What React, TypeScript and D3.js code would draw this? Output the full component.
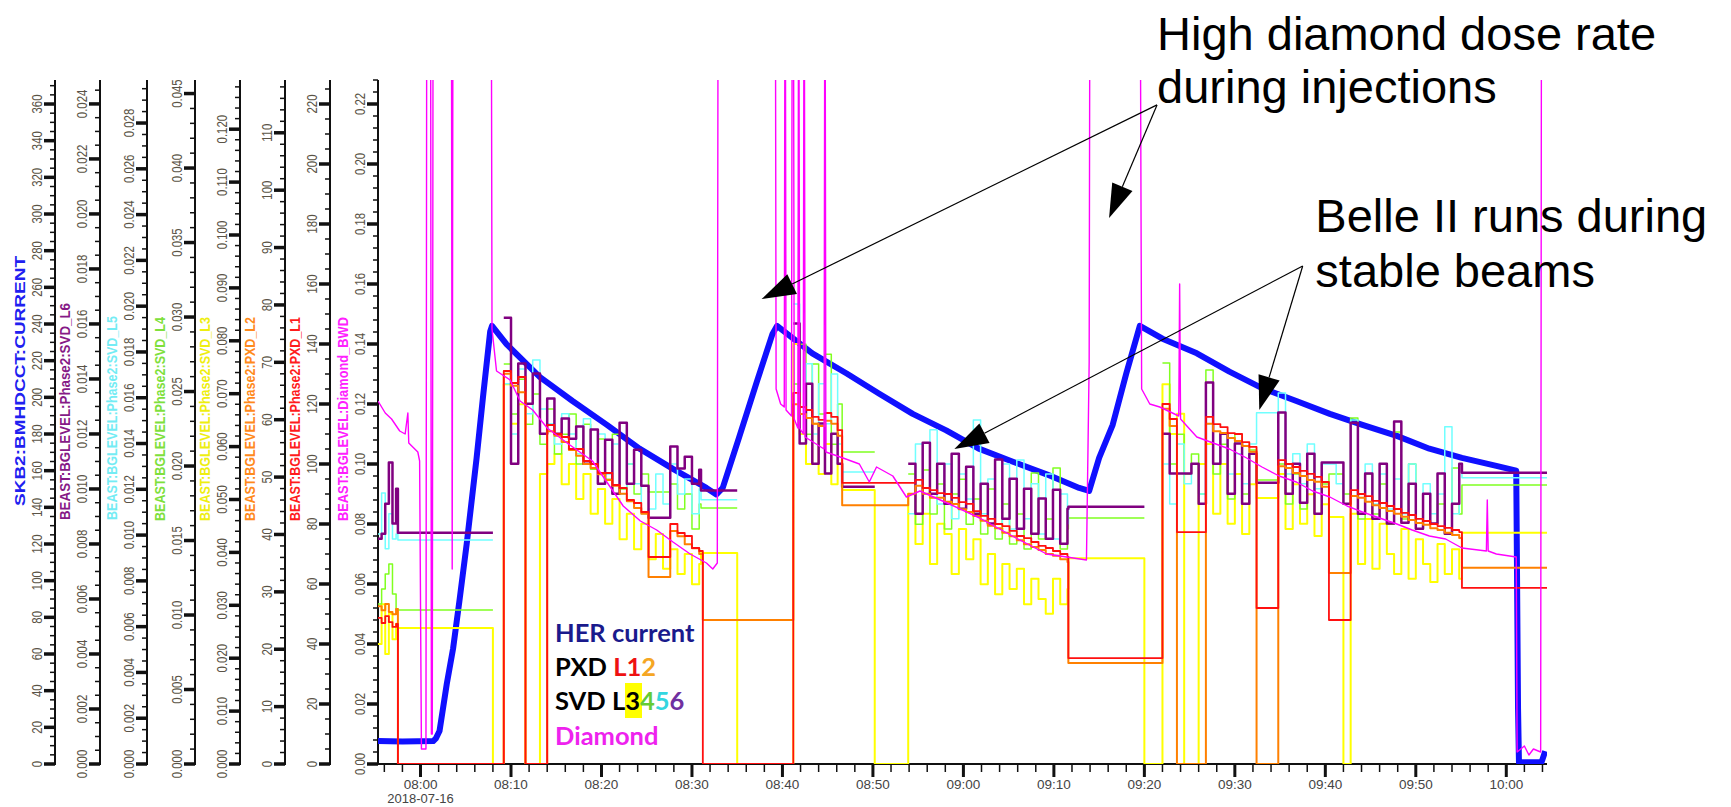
import React from 'react';
import * as d3 from 'd3';

type P = [number, number | null];

const W = 1731, H = 807;
const PL = 378, PR = 1547, PT = 80, PB = 764;
const BASE = new Date(2018, 6, 16, 8, 0, 0).getTime();
const T0 = -4.7, T1 = 124.5; // minutes after 08:00
const toDate = (m: number) => new Date(BASE + m * 60000);

// --- sample times (minutes after 08:00) for each running period ---
const tPre = [-4.7, -4.3, -3.9, -3.5, -3.1, -2.7];
const tA = [9.2, 10.0, 10.8, 11.6, 12.4, 13.2, 14.0, 14.8, 15.6, 16.4, 17.2, 18.0, 18.8, 19.6, 20.4, 21.2, 22.0, 22.8, 23.6, 24.4, 25.2, 26.0, 26.8, 27.6, 28.4, 29.2, 30.0, 30.8];
const tB1 = [41.2, 41.9, 42.6, 43.3, 44.0, 44.7, 45.4, 46.1];
const tB2 = [53.9, 54.7, 55.5, 56.3, 57.1, 57.9, 58.7, 59.5, 60.3, 61.1, 61.9, 62.7, 63.5, 64.3, 65.1, 65.9, 66.7, 67.5, 68.3, 69.1, 69.9, 70.7, 71.5];
const tC = [82.0, 82.8, 83.6, 84.4, 85.2, 86.0, 86.8, 87.6, 88.4, 89.2, 90.0, 90.8, 91.6, 92.4, 93.2, 94.0, 94.8, 95.6, 96.4, 97.2, 98.0, 98.8, 99.6, 100.4, 101.2, 102.0, 102.8, 103.6, 104.4, 105.2, 106.0, 106.8, 107.6, 108.4, 109.2, 110.0, 110.8, 111.6, 112.4, 113.2, 114.0, 114.8];

// --- HER current (mA) ---
const herT = [-4.7, -2.0, 1.4, 1.7, 2.1, 2.9, 3.6, 4.3, 5.1, 6.2, 6.9, 7.7, 7.9, 9.5, 13.2, 16.8, 20.6, 24.2, 27.9, 31.6, 32.7, 33.4, 35.2, 37.2, 38.9, 39.4, 43.3, 47.1, 50.7, 54.4, 58.1, 61.7, 65.4, 69.2, 72.8, 73.9, 75.0, 76.5, 78.0, 79.5, 82.0, 85.8, 89.4, 93.0, 96.8, 100.5, 104.1, 107.9, 111.5, 115.1, 118.9, 121.1, 121.3, 121.4, 123.9, 124.3];
const herV = [12.5, 12.3, 12.5, 14, 18, 43.6, 63, 89, 120, 167, 200, 236, 239, 229, 211, 198, 185, 172, 161, 150.6, 147, 150.6, 178, 209, 234.6, 239, 224, 213, 202, 191, 182, 172, 165, 158, 150.6, 149, 167, 185, 213, 239, 232, 224, 214, 205, 198, 191, 185, 179, 172, 167, 162.6, 160, 30, 1, 1, 7];

// --- Diamond BWD ---
const diaT = [-4.7, -3.9, -3.2, -2.3, -1.7, -1.4, -1.3, -0.3, -0.1, 0.1, 0.6, 0.7, 1.1, 1.2, 1.3, 1.4, 3.4, 3.5, 3.6, 7.8, 7.9, 8.4, 9.9, 11.0, 12.4, 14.0, 16.2, 19.0, 22.4, 24.3, 26.1, 27.9, 29.8, 31.6, 32.3, 32.8, 32.9, 39.2, 39.3, 39.8, 40.2, 40.3, 40.4, 41.0, 41.1, 41.2, 41.3, 41.7, 41.8, 41.9, 42.3, 42.4, 42.5, 44.6, 44.7, 44.8, 46.7, 48.5, 49.6, 50.4, 52.2, 53.7, 55.2, 58.2, 61.8, 65.4, 69.2, 71.4, 73.6, 73.9, 74.0, 79.5, 79.7, 80.6, 81.7, 83.8, 83.9, 84.0, 85.8, 87.6, 89.4, 91.3, 93.0, 94.9, 96.8, 98.6, 100.5, 102.4, 104.1, 106.0, 107.9, 109.6, 111.5, 113.3, 115.1, 117.8, 117.9, 118.0, 118.9, 121.1, 121.2, 122.0, 122.5, 123.0, 123.8, 123.9, 124.5];
const diaV = [0.121, 0.117, 0.115, 0.111, 0.110, 0.117, 0.107, 0.104, 0.101, 0.005, 0.005, 0.30, 0.30, 0.010, 0.010, 0.30, 0.30, 0.065, 0.30, 0.30, 0.145, 0.131, 0.128, 0.121, 0.118, 0.112, 0.107, 0.101, 0.086, 0.081, 0.078, 0.074, 0.070, 0.067, 0.065, 0.067, 0.30, 0.30, 0.125, 0.120, 0.119, 0.30, 0.118, 0.116, 0.30, 0.30, 0.115, 0.112, 0.30, 0.112, 0.110, 0.30, 0.109, 0.105, 0.30, 0.104, 0.102, 0.100, 0.094, 0.099, 0.096, 0.089, 0.091, 0.087, 0.082, 0.076, 0.070, 0.069, 0.068, 0.134, 0.30, 0.30, 0.125, 0.120, 0.119, 0.116, 0.16, 0.115, 0.109, 0.107, 0.105, 0.102, 0.099, 0.096, 0.094, 0.091, 0.089, 0.086, 0.084, 0.082, 0.080, 0.078, 0.076, 0.075, 0.072, 0.071, 0.088, 0.071, 0.070, 0.069, 0.004, 0.006, 0.003, 0.005, 0.004, 0.30, 0.30];

// --- PXD L1 ---
const l1Pre = [48.7, 47, 49.3, 47.3, 45.7, 46.7];
const l1A = [131, 127, 129, 0, 0, 0, 113, 110, 109, 105, 105, 101, 100, 97, 97, 93, 92, 88, 87, 84, 69, 69, 69, 80, 77, 76, 72, 71];
const l1B1 = [123.7, 119, 118, 115.7, 114.7, 117, 115.7, 111.3];
const l1B2 = [93.7, 94.7, 92, 91.3, 90.3, 90, 88.7, 87.3, 86.7, 84.3, 82.7, 81.7, 80, 79.3, 77.7, 76, 75.3, 74, 72.7, 72, 71, 70, 69];
const l1C = [120, 115, 77.3, 77.3, 77.3, 77.3, 115.7, 113.3, 112.3, 110.3, 110, 107.3, 105.7, 52, 52, 52, 101.3, 100, 99, 97.7, 96.7, 95.7, 94, 48, 48, 48, 91.3, 90, 89.3, 87.7, 87, 86, 85, 83.7, 83, 81.7, 81, 80, 79.3, 78.7, 78, 77.3];
const l1Links: P[][] = [[[-2.5, 0]], [[31.2, 0]], [[46.6, 93.7]], [[71.6, 35.3]], [[115.1, 58.7], [124.5, 58.7]]];

// --- PXD L2 ---
const l2Pre = [27.5, 26.8, 27.9, 26.5, 26.1, 27.0];
const l2A = [68.0, 65.9, 64.8, 0, 0, 0, 58.0, 57.2, 56.1, 54.7, 53.7, 52.3, 51.6, 50.5, 49.5, 48.5, 47.1, 45.8, 44.6, 43.6, 32.6, 32.6, 32.6, 40.6, 39.7, 38.3, 37.6, 36.6];
const l2B1 = [62.7, 61.0, 60.3, 59.3, 58.9, 59.8, 59.3, 57.2];
const l2B2 = [47.1, 48.5, 47.1, 46.4, 46.4, 45.7, 45.3, 44.4, 43.9, 43.2, 42.4, 41.5, 41.1, 40.3, 39.7, 39.0, 38.3, 37.8, 37.3, 36.6, 36.3, 35.7, 35.2];
const l2C = [61.9, 58.9, 0, 0, 0, 0, 59.3, 58.0, 57.7, 56.8, 56.3, 55.4, 54.4, 0, 0, 0, 51.9, 51.6, 50.7, 50.2, 49.5, 49.2, 48.3, 33.3, 33.3, 33.3, 46.7, 46.4, 45.7, 45.1, 44.6, 44.1, 43.6, 43.1, 42.5, 42.0, 41.7, 41.1, 40.8, 40.3, 39.9, 39.4];
const l2Links: P[][] = [[[-2.5, 0]], [[31.2, 25.1]], [[46.6, 45.1]], [[71.6, 17.6]], [[115.1, 34.2], [124.5, 34.2]]];

// --- SVD L3 ---
const l3Pre = [0.0227, 0.0302, 0.0208, 0.0284, 0.0236, 0.0265];
const l3A = [0.0718, 0.0643, 0.0680, 0, 0, 0.0548, 0.0567, 0.0586, 0.0529, 0.0567, 0.0501, 0.0548, 0.0473, 0.0520, 0.0454, 0.0501, 0.0425, 0.0473, 0.0406, 0.0454, 0.0387, 0.0435, 0.0369, 0.0406, 0.0359, 0.0397, 0.0340, 0.0378];
const l3B1 = [0.0794, 0.0624, 0.0567, 0.0643, 0.0548, 0.0605, 0.0529, 0.0567];
const l3B2 = [0.0510, 0.0416, 0.0473, 0.0378, 0.0454, 0.0435, 0.0359, 0.0444, 0.0387, 0.0425, 0.0340, 0.0397, 0.0321, 0.0378, 0.0331, 0.0369, 0.0302, 0.0350, 0.0312, 0.0284, 0.0350, 0.0302, 0.0331];
const l3C = [0.0718, 0.0624, 0.0662, 0, 0, 0.0567, 0.0605, 0.0473, 0.0567, 0.0454, 0.0548, 0.0435, 0.0529, 0.0503, 0.0503, 0.0503, 0.0548, 0.0444, 0.0529, 0.0454, 0.0510, 0.0431, 0.0491, 0.0467, 0.0467, 0, 0.0473, 0.0378, 0.0463, 0.0369, 0.0454, 0.0397, 0.0359, 0.0444, 0.0350, 0.0425, 0.0378, 0.0344, 0.0416, 0.0359, 0.0406, 0.0350];
const l3Links: P[][] = [[[-2.5, 0.0257], [8.0, 0]], [[31.0, 0.0399], [35.0, 0]], [[46.6, 0.0518], [50.2, 0]], [[71.6, 0.0389], [80.0, 0]], [[115.1, 0.0437], [124.5, 0.0437]]];

// --- SVD L4 ---
const l4Pre = [0.01074, 0.01174, 0.01275, 0.01342, 0.01141, 0.01040];
const l4A = [0.02684, 0.02349, 0.02583, 0.02281, 0.02483, 0.02147, 0.02382, 0.02080, 0.02214, 0.02349, 0.02013, 0.02281, 0.01979, 0.02181, 0.01912, 0.02214, 0.01845, 0.02013, 0.01812, 0.01946, 0.01825, 0.01825, 0.01825, 0.01879, 0.01711, 0.01812, 0.01577, 0.01745];
const l4B1 = [0.02550, 0.02818, 0.02214, 0.02684, 0.02349, 0.02751, 0.02147, 0.02416];
const l4B2 = [0.01946, 0.01610, 0.01973, 0.01678, 0.01879, 0.01577, 0.01812, 0.01912, 0.01610, 0.01778, 0.01543, 0.01845, 0.01510, 0.01745, 0.01476, 0.01678, 0.01443, 0.01953, 0.01510, 0.01644, 0.01986, 0.01443, 0.01577];
const l4C = [0.02691, 0.02013, 0.02214, 0.01946, 0.02080, 0.01812, 0.02644, 0.01946, 0.02147, 0.01778, 0.02214, 0.01812, 0.02107, 0.01906, 0.01906, 0.01906, 0.02013, 0.01745, 0.01946, 0.01711, 0.02080, 0.01678, 0.01879, 0.01946, 0.01946, 0.01812, 0.02322, 0.01644, 0.01946, 0.01678, 0.01879, 0.01610, 0.02228, 0.01644, 0.02013, 0.01577, 0.01812, 0.01610, 0.01745, 0.01543, 0.01986, 0.01678];
const l4Links: P[][] = [[[-2.5, 0.01033], [8.0, 0.01033], [8.05, null]], [[31.0, 0.01718], [35.0, 0.01718], [35.05, null]], [[46.6, 0.02094], [50.2, 0.02094], [50.25, null]], [[71.6, 0.01651], [80.0, 0.01651], [80.05, null]], [[115.1, 0.01872], [124.5, 0.01872]]];

// --- SVD L5 ---
const l5Pre = [0.01005, 0.01184, 0.00940, 0.01093, 0.00983, 0.01005];
const l5A = [0.01661, 0.01442, 0.01726, 0.01530, 0.01765, 0.01551, 0.01486, 0.01398, 0.01530, 0.01442, 0.01355, 0.01508, 0.01311, 0.01442, 0.01267, 0.01398, 0.01180, 0.01311, 0.01224, 0.01093, 0.01114, 0.01267, 0.01136, 0.01311, 0.01180, 0.01245, 0.01093, 0.01202];
const l5B1 = [0.02010, 0.01529, 0.01748, 0.01442, 0.01661, 0.01486, 0.01704, 0.01398];
const l5B2 = [0.01093, 0.01398, 0.01180, 0.01460, 0.01136, 0.01311, 0.01071, 0.01267, 0.01158, 0.01503, 0.01093, 0.01245, 0.01049, 0.01311, 0.01027, 0.01328, 0.01071, 0.01224, 0.01005, 0.01267, 0.00983, 0.01180, 0.01049];
const l5C = [0.01311, 0.01136, 0.01398, 0.01224, 0.01311, 0.01180, 0.01486, 0.01311, 0.01442, 0.01267, 0.01355, 0.01224, 0.01398, 0.01534, 0.01534, 0.01534, 0.01621, 0.01267, 0.01355, 0.01224, 0.01398, 0.01202, 0.01311, 0.01311, 0.01224, 0.01136, 0.01503, 0.01180, 0.01311, 0.01136, 0.01267, 0.01114, 0.01245, 0.01093, 0.01311, 0.01071, 0.01224, 0.01093, 0.01180, 0.01473, 0.01093, 0.01311];
const l5Links: P[][] = [[[-2.5, 0.00979], [8.0, 0.00979], [8.05, null]], [[31.0, 0.01154], [35.0, 0.01154], [35.05, null]], [[46.6, 0.01276], [50.2, 0.01276], [50.25, null]], [[71.6, 0.01123], [80.0, 0.01123], [80.05, null]], [[115.1, 0.01250], [124.5, 0.01250]]];

// --- SVD L6 ---
const l6Pre = [0.00819, 0.00837, 0.00946, 0.01096, 0.00874, 0.01001];
const l6A = [0.01623, 0.01092, 0.01456, 0.01310, 0.01420, 0.01201, 0.01329, 0.01201, 0.01256, 0.01183, 0.01227, 0.01092, 0.01216, 0.01019, 0.01179, 0.00983, 0.01241, 0.01019, 0.01143, 0.01012, 0.00895, 0.00895, 0.00895, 0.01154, 0.01074, 0.01117, 0.01019, 0.01070];
const l6B1 = [0.01602, 0.01165, 0.01383, 0.01092, 0.01238, 0.01056, 0.01201, 0.01092];
const l6B2 = [0.01092, 0.00910, 0.01168, 0.00983, 0.01092, 0.00946, 0.01128, 0.00928, 0.01081, 0.00910, 0.01019, 0.00874, 0.01107, 0.00892, 0.01037, 0.00855, 0.01001, 0.00837, 0.00965, 0.00819, 0.00997, 0.00801, 0.00928];
const l6C = [0.01201, 0.01056, 0.01056, 0.01056, 0.01092, 0.00946, 0.01387, 0.01092, 0.01201, 0.00983, 0.01165, 0.00946, 0.01128, 0.01023, 0.01023, 0.01023, 0.01278, 0.00983, 0.01092, 0.00950, 0.01128, 0.00910, 0.01096, 0.01096, 0.01096, 0.00946, 0.01241, 0.00910, 0.01056, 0.00892, 0.01092, 0.00874, 0.01245, 0.00877, 0.01019, 0.00855, 0.00983, 0.00874, 0.01056, 0.00837, 0.00946, 0.01092];
const l6Links: P[][] = [[[-2.5, 0.00841], [8.0, 0.00841], [8.05, null]], [[31.0, 0.00994], [35.0, 0.00994], [35.05, null]], [[46.6, 0.01008], [50.2, 0.01008], [50.25, null]], [[71.6, 0.00935], [80.0, 0.00935], [80.05, null]], [[115.1, 0.01059], [124.5, 0.01059]]];

const zip = (ts: number[], vs: (number | null)[]): P[] => ts.map((t, i) => [t, vs[i]]);
const glue = (pre: number[], a: number[], b1: number[], b2: number[], c: number[], links: P[][]): P[] => [
  ...zip(tPre, pre), ...links[0], ...zip(tA, a), ...links[1], ...zip(tB1, b1), ...links[2],
  ...zip(tB2, b2), ...links[3], ...zip(tC, c), ...links[4],
];

// axes, left to right
const AXES = [
  { key: 'her', title: 'SKB2:BMHDCCT:CURRENT', color: '#2020f0', line: 55, max: 373.1, major: 20, minor: 5, fmt: d3.format('d'), tlen: 250, tbottom: 506 },
  { key: 'l6', title: 'BEAST:BGLEVEL:Phase2:SVD_L6', color: '#861a86', line: 100, max: 0.02487, major: 0.002, minor: 0.0005, fmt: d3.format('.3f'), tlen: 217, tbottom: 520 },
  { key: 'l5', title: 'BEAST:BGLEVEL:Phase2:SVD_L5', color: '#74ecf4', line: 147, max: 0.02988, major: 0.002, minor: 0.0005, fmt: d3.format('.3f'), tlen: 204, tbottom: 520 },
  { key: 'l4', title: 'BEAST:BGLEVEL:Phase2:SVD_L4', color: '#7ee03c', line: 195, max: 0.04591, major: 0.005, minor: 0.001, fmt: d3.format('.3f'), tlen: 204, tbottom: 521 },
  { key: 'l3', title: 'BEAST:BGLEVEL:Phase2:SVD_L3', color: '#eeee10', line: 240, max: 0.1293, major: 0.01, minor: 0.002, fmt: d3.format('.3f'), tlen: 204, tbottom: 521 },
  { key: 'l2', title: 'BEAST:BGLEVEL:Phase2:PXD_L2', color: '#ff8a1c', line: 285, max: 119.2, major: 10, minor: 2, fmt: d3.format('d'), tlen: 204, tbottom: 521 },
  { key: 'l1', title: 'BEAST:BGLEVEL:Phase2:PXD_L1', color: '#ff1c1c', line: 330, max: 228, major: 20, minor: 5, fmt: d3.format('d'), tlen: 204, tbottom: 521 },
  { key: 'dia', title: 'BEAST:BGLEVEL:Diamond_BWD', color: '#ff20ff', line: 378, max: 0.228, major: 0.02, minor: 0.004, fmt: d3.format('.2f'), tlen: 204, tbottom: 521 },
];

const x = d3.scaleTime().domain([toDate(T0), toDate(T1)]).range([PL, PR]);
const ys: Record<string, d3.ScaleLinear<number, number>> = {};
AXES.forEach(a => { ys[a.key] = d3.scaleLinear().domain([0, a.max]).range([PB, PT]); });

const mkLine = (key: string, curve: d3.CurveFactory) =>
  d3.line<P>().defined(d => d[1] != null).x(d => x(toDate(d[0]))).y(d => ys[key](d[1] as number)).curve(curve);

const SERIES = [
  { key: 'her', color: '#1010ff', width: 6, data: zip(herT, herV), curve: d3.curveLinear },
  { key: 'l3', color: '#ffff00', width: 2, data: glue(l3Pre, l3A, l3B1, l3B2, l3C, l3Links), curve: d3.curveStepAfter },
  { key: 'l4', color: '#80ff20', width: 1.5, data: glue(l4Pre, l4A, l4B1, l4B2, l4C, l4Links), curve: d3.curveStepAfter },
  { key: 'l5', color: '#70ffff', width: 1.5, data: glue(l5Pre, l5A, l5B1, l5B2, l5C, l5Links), curve: d3.curveStepAfter },
  { key: 'l6', color: '#800080', width: 2.5, data: glue(l6Pre, l6A, l6B1, l6B2, l6C, l6Links), curve: d3.curveStepAfter },
  { key: 'l2', color: '#ff8000', width: 2, data: glue(l2Pre, l2A, l2B1, l2B2, l2C, l2Links), curve: d3.curveStepAfter },
  { key: 'l1', color: '#ff1010', width: 1.8, data: glue(l1Pre, l1A, l1B1, l1B2, l1C, l1Links), curve: d3.curveStepAfter },
  { key: 'dia', color: '#ff00ff', width: 1.4, data: zip(diaT, diaV), curve: d3.curveLinear },
];

// annotations in (minutes, diamond units)
const NOTES = [
  { lines: ['High diamond dose rate', 'during injections'], t: 81.4, v: [0.238, 0.2203] },
  { lines: ['Belle II runs during', 'stable beams'], t: 98.9, v: [0.1773, 0.159] },
];
const ARROWS = [
  { from: [81.4, 0.2197], to: [37.7, 0.155] },
  { from: [81.4, 0.2197], to: [76.1, 0.182] },
  { from: [97.5, 0.166], to: [59.0, 0.105] },
  { from: [97.5, 0.166], to: [92.7, 0.118] },
];

const steps = (max: number, step: number) =>
  d3.range(0, Math.floor(max / step + 1e-6) + 1).map(i => +(i * step).toFixed(6));

const YAxis = ({ a }: { a: typeof AXES[number] }) => {
  const y = ys[a.key];
  return (
    <g>
      <line x1={a.line} x2={a.line} y1={PT} y2={PB + 1} stroke="#111" strokeWidth={2} />
      {steps(a.max, a.minor).map(v => (
        <line key={'m' + v} x1={a.line - 5} x2={a.line} y1={y(v)} y2={y(v)} stroke="#111" strokeWidth={1.5} />
      ))}
      {steps(a.max, a.major).map(v => (
        <g key={'M' + v}>
          <line x1={a.line - 11} x2={a.line} y1={y(v)} y2={y(v)} stroke="#111" strokeWidth={3.5} />
          <text transform={`translate(${a.line - 18},${y(v)}) rotate(-90) scale(0.76,1)`} textAnchor="middle"
            dominantBaseline="central" fontSize={15} fill="#5a5346">{a.fmt(v)}</text>
        </g>
      ))}
      <text transform={`translate(${a.line - 36},${a.tbottom}) rotate(-90)`} dominantBaseline="central"
        fontSize={15} fontWeight={700} fill={a.color} textLength={a.tlen} lengthAdjust="spacingAndGlyphs">{a.title}</text>
    </g>
  );
};

const Arrow = ({ from, to }: { from: number[]; to: number[] }) => {
  const yd = ys.dia;
  const x0 = x(toDate(from[0])), y0 = yd(from[1]);
  const x1 = x(toDate(to[0])), y1 = yd(to[1]);
  const ang = Math.atan2(y1 - y0, x1 - x0);
  const L = 34, hw = 11;
  const bx = x1 - L * Math.cos(ang), by = y1 - L * Math.sin(ang);
  const px = -Math.sin(ang) * hw, py = Math.cos(ang) * hw;
  return (
    <g>
      <line x1={x0} y1={y0} x2={bx} y2={by} stroke="#000" strokeWidth={1.2} />
      <polygon points={`${x1},${y1} ${bx + px},${by + py} ${bx - px},${by - py}`} fill="#000" />
    </g>
  );
};

export default function App() {
  const major = x.ticks(d3.timeMinute.every(10) as d3.TimeInterval);
  const minor = x.ticks(d3.timeMinute.every(2) as d3.TimeInterval);
  const fmt = d3.timeFormat('%H:%M');
  return (
    <svg width={W} height={H} style={{ position: 'absolute', left: 0, top: 0, background: '#fff' }}
      fontFamily="'Liberation Sans', Arial, sans-serif">
      <defs>
        <clipPath id="plot"><rect x={PL} y={PT} width={PR - PL} height={PB - PT} /></clipPath>
      </defs>
      {AXES.map(a => <YAxis key={a.key} a={a} />)}

      <line x1={PL} x2={PR} y1={PB} y2={PB} stroke="#111" strokeWidth={2} />
      {minor.map(d => (
        <line key={'xm' + +d} x1={x(d)} x2={x(d)} y1={PB} y2={PB + 8} stroke="#111" strokeWidth={1.5} />
      ))}
      {major.map((d, i) => (
        <g key={'xM' + +d}>
          <line x1={x(d)} x2={x(d)} y1={PB} y2={PB + 13} stroke="#111" strokeWidth={3} />
          <text x={x(d)} y={789} textAnchor="middle" fontSize={13.5} fill="#444">{fmt(d)}</text>
          {i === 0 && <text x={x(d)} y={803} textAnchor="middle" fontSize={13} fill="#444">2018-07-16</text>}
        </g>
      ))}

      <g clipPath="url(#plot)">
        {SERIES.map(s => (
          <path key={s.key} d={mkLine(s.key, s.curve)(s.data) || ''} fill="none" stroke={s.color}
            strokeWidth={s.width} strokeLinejoin="round" />
        ))}
      </g>

      <g fontFamily="Lato, 'Open Sans', sans-serif" fontWeight={700} fontSize={25.5}>
        <rect x={625} y={683} width={17} height={35} fill="#ffff00" />
        <text x={555} y={642} fill="#1a1a8c">HER current</text>
        <text x={555} y={676}><tspan fill="#000">PXD </tspan><tspan fill="#ee1111">L1</tspan><tspan fill="#f5a623">2</tspan></text>
        <text x={555} y={710}><tspan fill="#000">SVD L3</tspan><tspan fill="#66cc33">4</tspan><tspan fill="#33d6e0">5</tspan><tspan fill="#7030a0">6</tspan></text>
        <text x={555} y={745} fill="#ee22ee">Diamond</text>
      </g>

      {ARROWS.map((a, i) => <Arrow key={i} from={a.from} to={a.to} />)}
      {NOTES.map((n, i) => (
        <g key={i}>
          {n.lines.map((l, j) => (
            <text key={j} x={x(toDate(n.t))} y={ys.dia(n.v[j])} fontSize={47} fill="#000">{l}</text>
          ))}
        </g>
      ))}
    </svg>
  );
}
